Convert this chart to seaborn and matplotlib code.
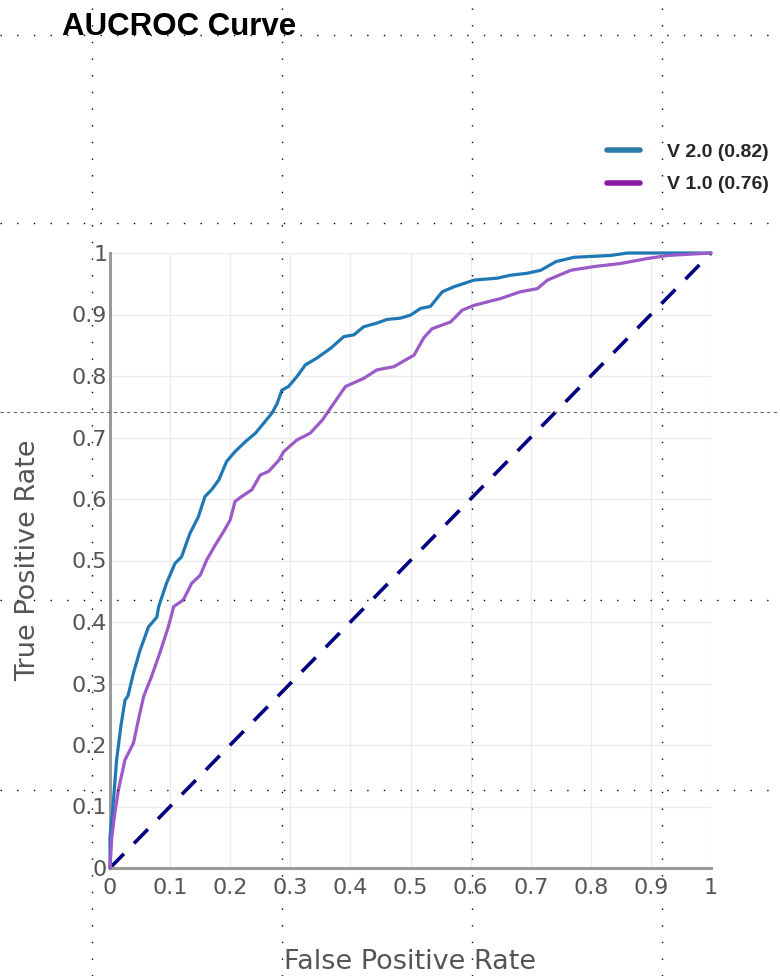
import numpy as np
import pandas as pd
import matplotlib
matplotlib.use("Agg")
import matplotlib.pyplot as plt
from matplotlib.lines import Line2D
import seaborn as sns

# ---- data ----
v2_fpr = [0, 0, 0.005, 0.011, 0.018, 0.025, 0.03, 0.039, 0.05, 0.064, 0.078, 0.081, 0.094,
          0.108, 0.119, 0.133, 0.147, 0.158, 0.169, 0.181, 0.194, 0.208, 0.225, 0.242, 0.258,
          0.269, 0.278, 0.286, 0.297, 0.311, 0.325, 0.344, 0.367, 0.389, 0.406, 0.422, 0.444,
          0.461, 0.483, 0.5, 0.517, 0.533, 0.553, 0.572, 0.606, 0.644, 0.667, 0.694, 0.717,
          0.742, 0.772, 0.833, 0.861, 1.0]
v2_tpr = [0, 0.05, 0.10, 0.176, 0.23, 0.273, 0.28, 0.317, 0.354, 0.392, 0.408, 0.425, 0.463,
          0.495, 0.506, 0.544, 0.571, 0.604, 0.615, 0.631, 0.661, 0.677, 0.693, 0.707, 0.726,
          0.739, 0.755, 0.777, 0.783, 0.799, 0.818, 0.829, 0.845, 0.864, 0.867, 0.88, 0.886,
          0.892, 0.894, 0.899, 0.91, 0.913, 0.937, 0.945, 0.956, 0.959, 0.964, 0.967, 0.972,
          0.986, 0.993, 0.996, 1.0, 1.0]

v1_fpr = [0, 0.003, 0.008, 0.014, 0.025, 0.039, 0.047, 0.056, 0.069, 0.083, 0.097, 0.106,
          0.122, 0.136, 0.15, 0.161, 0.175, 0.189, 0.2, 0.208, 0.219, 0.236, 0.25, 0.264,
          0.281, 0.289, 0.311, 0.333, 0.353, 0.372, 0.392, 0.422, 0.444, 0.472, 0.506, 0.522,
          0.536, 0.567, 0.586, 0.606, 0.65, 0.683, 0.711, 0.728, 0.767, 0.806, 0.85, 0.894,
          0.928, 1.0]
v1_tpr = [0, 0.05, 0.089, 0.127, 0.176, 0.203, 0.24, 0.279, 0.311, 0.35, 0.392, 0.425,
          0.436, 0.463, 0.476, 0.501, 0.525, 0.547, 0.566, 0.596, 0.604, 0.615, 0.639, 0.645,
          0.663, 0.677, 0.696, 0.707, 0.728, 0.755, 0.783, 0.796, 0.81, 0.815, 0.834, 0.862,
          0.877, 0.888, 0.907, 0.915, 0.926, 0.937, 0.942, 0.956, 0.972, 0.978, 0.983, 0.991,
          0.996, 1.0]

series_names = ["V 2.0 (0.82)", "V 1.0 (0.76)"]
diag_x = [0, 1]
diag_y = [0, 1]
ticks = [0, 0.1, 0.2, 0.3, 0.4, 0.5, 0.6, 0.7, 0.8, 0.9, 1]
tick_labels = ["0", "0.1", "0.2", "0.3", "0.4", "0.5", "0.6", "0.7", "0.8", "0.9", "1"]

df = pd.concat([
    pd.DataFrame({"fpr": v2_fpr, "tpr": v2_tpr, "model": series_names[0]}),
    pd.DataFrame({"fpr": v1_fpr, "tpr": v1_tpr, "model": series_names[1]}),
], ignore_index=True)

sns.set_theme(style="white")
plt.rcParams["font.family"] = ["DejaVu Sans"]

W, H = 780, 976
fig = plt.figure(figsize=(W / 100, H / 100), dpi=100)
ax = fig.add_axes([110 / W, 1 - 868 / H, 601 / W, 615 / H])

line_colors = {series_names[0]: "#1f78b4", series_names[1]: "#9b5ac8"}
legend_colors = ["#2b7bab", "#8a1aa6"]

ax.plot(diag_x, diag_y, color="#000080", lw=2.6, linestyle=(0, (5.5, 4)), zorder=2)
sns.lineplot(data=df, x="fpr", y="tpr", hue="model", palette=line_colors, sort=False,
             estimator=None, lw=2.3, legend=False, ax=ax, zorder=3)
for ln in ax.lines:
    ln.set_clip_on(False)

ax.set_xlim(0, 1)
ax.set_ylim(0, 1)
ax.set_xticks(ticks)
ax.set_xticklabels(tick_labels)
ax.set_yticks(ticks)
ax.set_yticklabels(tick_labels)
ax.grid(True, color="#ececec", lw=1.0)
ax.set_axisbelow(True)
for s in ["top", "right"]:
    ax.spines[s].set_visible(False)
for s in ["left", "bottom"]:
    ax.spines[s].set_color("#9a9a9a")
    ax.spines[s].set_linewidth(2.2)
ax.tick_params(axis="both", length=0, labelsize=16, labelcolor="#555555")
ax.tick_params(axis="x", pad=7)
ax.tick_params(axis="y", pad=2)

ax.set_xlabel("False Positive Rate", fontsize=19.5, color="#555555", va="center")
ax.set_ylabel("True Positive Rate", fontsize=19.5, color="#555555", va="center")
ax.xaxis.set_label_coords(0.5, (868 - 962) / 615)
ax.yaxis.set_label_coords((28 - 110) / 601, 0.5)

fig.text(62 / W, 1 - 27 / H, "AUCROC Curve", fontsize=22.5, fontweight="bold",
         family=["Liberation Sans", "DejaVu Sans"], ha="left", va="center", color="black")

handles = [Line2D([0], [0], color=c, lw=4) for c in legend_colors]
fig.legend(handles, series_names, loc="upper left",
           bbox_to_anchor=(607 / W, 1 - 143 / H), bbox_transform=fig.transFigure,
           frameon=False, borderpad=0, borderaxespad=0, handlelength=1.7,
           handletextpad=1.4, labelspacing=0.78,
           prop={"family": "Liberation Sans", "weight": "bold", "size": 14})

# overlay guide lines seen in the reference
for xp in [92, 282, 472, 662]:
    fig.add_artist(Line2D([xp / W, xp / W], [0, 1], transform=fig.transFigure,
                          color="black", lw=1.0, linestyle=(0, (1, 11)), zorder=10))
for yp in [35, 223, 600, 790]:
    fig.add_artist(Line2D([0, 1], [1 - yp / H, 1 - yp / H], transform=fig.transFigure,
                          color="black", lw=1.0, linestyle=(0, (1, 11)), zorder=10))
fig.add_artist(Line2D([0, 1], [1 - 412 / H, 1 - 412 / H], transform=fig.transFigure,
                      color="#666666", lw=0.8, linestyle=(0, (3, 3)), zorder=10))

fig.savefig("out.png", dpi=100)
